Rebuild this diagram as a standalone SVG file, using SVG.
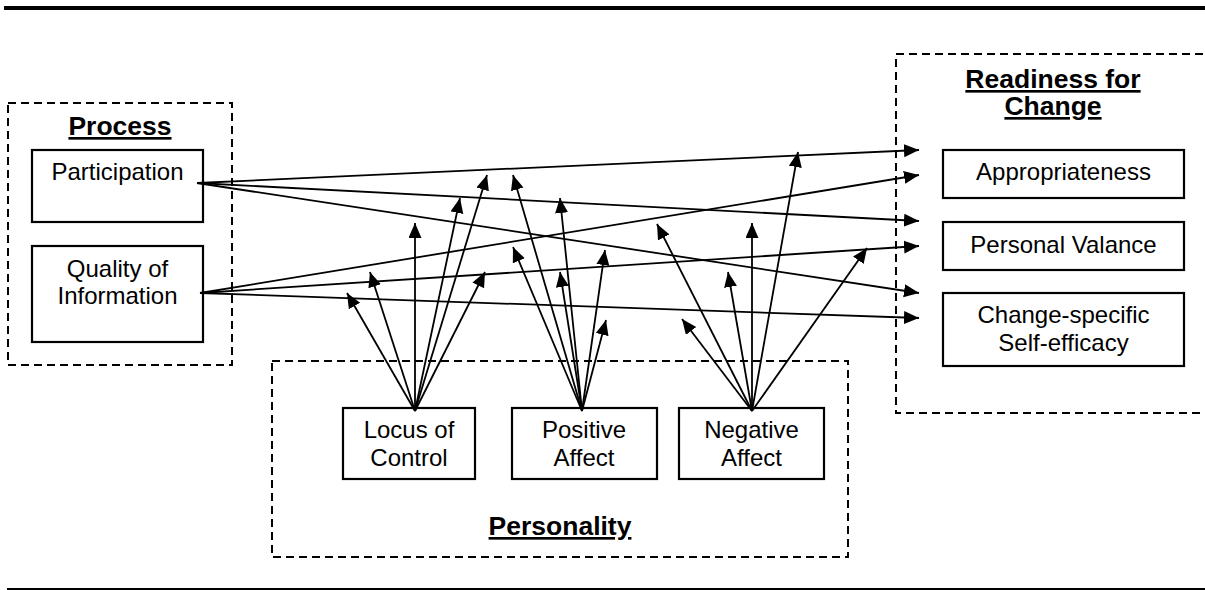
<svg xmlns="http://www.w3.org/2000/svg" width="1205" height="590" viewBox="0 0 1205 590">
<style>
.t{font-family:"Liberation Sans",Arial,sans-serif;font-size:24px;fill:#000;text-anchor:middle}
.h{font-family:"Liberation Sans",Arial,sans-serif;font-size:26.5px;font-weight:bold;fill:#000;text-anchor:middle;text-decoration:underline}
.box{fill:#fff;stroke:#000;stroke-width:2.2}
.grp{fill:none;stroke:#000;stroke-width:2;stroke-dasharray:8 5}
.c{fill:none;stroke:#000;stroke-width:1.8;marker-end:url(#ah)}
</style>
<defs>
<marker id="ah" markerUnits="userSpaceOnUse" markerWidth="16" markerHeight="14" refX="15" refY="6.5" orient="auto">
<path d="M0,0 L15,6.5 L0,13 z" fill="#000"/>
</marker>
</defs>
<rect x="0" y="0" width="1205" height="590" fill="#fff"/>
<rect x="4" y="6" width="1201" height="4" fill="#000"/>
<rect x="7" y="588" width="1198" height="2.3" fill="#000"/>

<g id="process-group">
<rect class="grp" x="8" y="103" width="224" height="262"/>
<text class="h" x="120" y="135">Process</text>
</g>
<g id="readiness-group">
<rect class="grp" x="896" y="54" width="330" height="359"/>
<text class="h" x="1053" y="88">Readiness for</text>
<text class="h" x="1053" y="115">Change</text>
</g>
<g id="personality-group">
<rect class="grp" x="272" y="361" width="576" height="196"/>
<text class="h" x="560" y="535">Personality</text>
</g>

<g id="participation">
<rect class="box" x="32" y="150" width="171" height="72"/>
<text class="t" x="117.5" y="180">Participation</text>
</g>
<g id="quality">
<rect class="box" x="32" y="246" width="171" height="96"/>
<text class="t" x="117.5" y="277">Quality of</text>
<text class="t" x="117.5" y="304">Information</text>
</g>
<g id="appropriateness">
<rect class="box" x="943" y="150" width="241" height="48"/>
<text class="t" x="1063.5" y="180">Appropriateness</text>
</g>
<g id="valance">
<rect class="box" x="943" y="222" width="241" height="48"/>
<text class="t" x="1063.5" y="253">Personal Valance</text>
</g>
<g id="efficacy">
<rect class="box" x="943" y="293" width="241" height="73"/>
<text class="t" x="1063.5" y="323">Change-specific</text>
<text class="t" x="1063.5" y="351">Self-efficacy</text>
</g>
<g id="locus">
<rect class="box" x="343" y="408" width="132" height="71"/>
<text class="t" x="409" y="438">Locus of</text>
<text class="t" x="409" y="466">Control</text>
</g>
<g id="positive">
<rect class="box" x="512" y="408" width="145" height="71"/>
<text class="t" x="584" y="438">Positive</text>
<text class="t" x="584" y="466">Affect</text>
</g>
<g id="negative">
<rect class="box" x="679" y="408" width="145" height="71"/>
<text class="t" x="751.5" y="438">Negative</text>
<text class="t" x="751.5" y="466">Affect</text>
</g>

<g id="connectors">
<line class="c" x1="197" y1="183" x2="919" y2="150"/>
<line class="c" x1="197" y1="183" x2="919" y2="221"/>
<line class="c" x1="197" y1="183" x2="919" y2="293"/>
<line class="c" x1="200" y1="293" x2="919" y2="175"/>
<line class="c" x1="200" y1="293" x2="919" y2="246"/>
<line class="c" x1="200" y1="293" x2="919" y2="318"/>

<line class="c" x1="415" y1="411" x2="347" y2="293"/>
<line class="c" x1="415" y1="411" x2="370" y2="272"/>
<line class="c" x1="415" y1="411" x2="415" y2="223"/>
<line class="c" x1="415" y1="411" x2="460" y2="198"/>
<line class="c" x1="415" y1="411" x2="487" y2="175"/>
<line class="c" x1="415" y1="411" x2="485" y2="272"/>

<line class="c" x1="582" y1="411" x2="513" y2="175"/>
<line class="c" x1="582" y1="411" x2="560" y2="198"/>
<line class="c" x1="582" y1="411" x2="513" y2="247"/>
<line class="c" x1="582" y1="411" x2="605" y2="250"/>
<line class="c" x1="582" y1="411" x2="560" y2="272"/>
<line class="c" x1="582" y1="411" x2="606" y2="320"/>

<line class="c" x1="752" y1="411" x2="657" y2="224"/>
<line class="c" x1="752" y1="411" x2="752" y2="223"/>
<line class="c" x1="752" y1="411" x2="798" y2="152"/>
<line class="c" x1="752" y1="411" x2="728" y2="272"/>
<line class="c" x1="752" y1="411" x2="867" y2="248"/>
<line class="c" x1="752" y1="411" x2="682" y2="319"/>
</g>
</svg>
